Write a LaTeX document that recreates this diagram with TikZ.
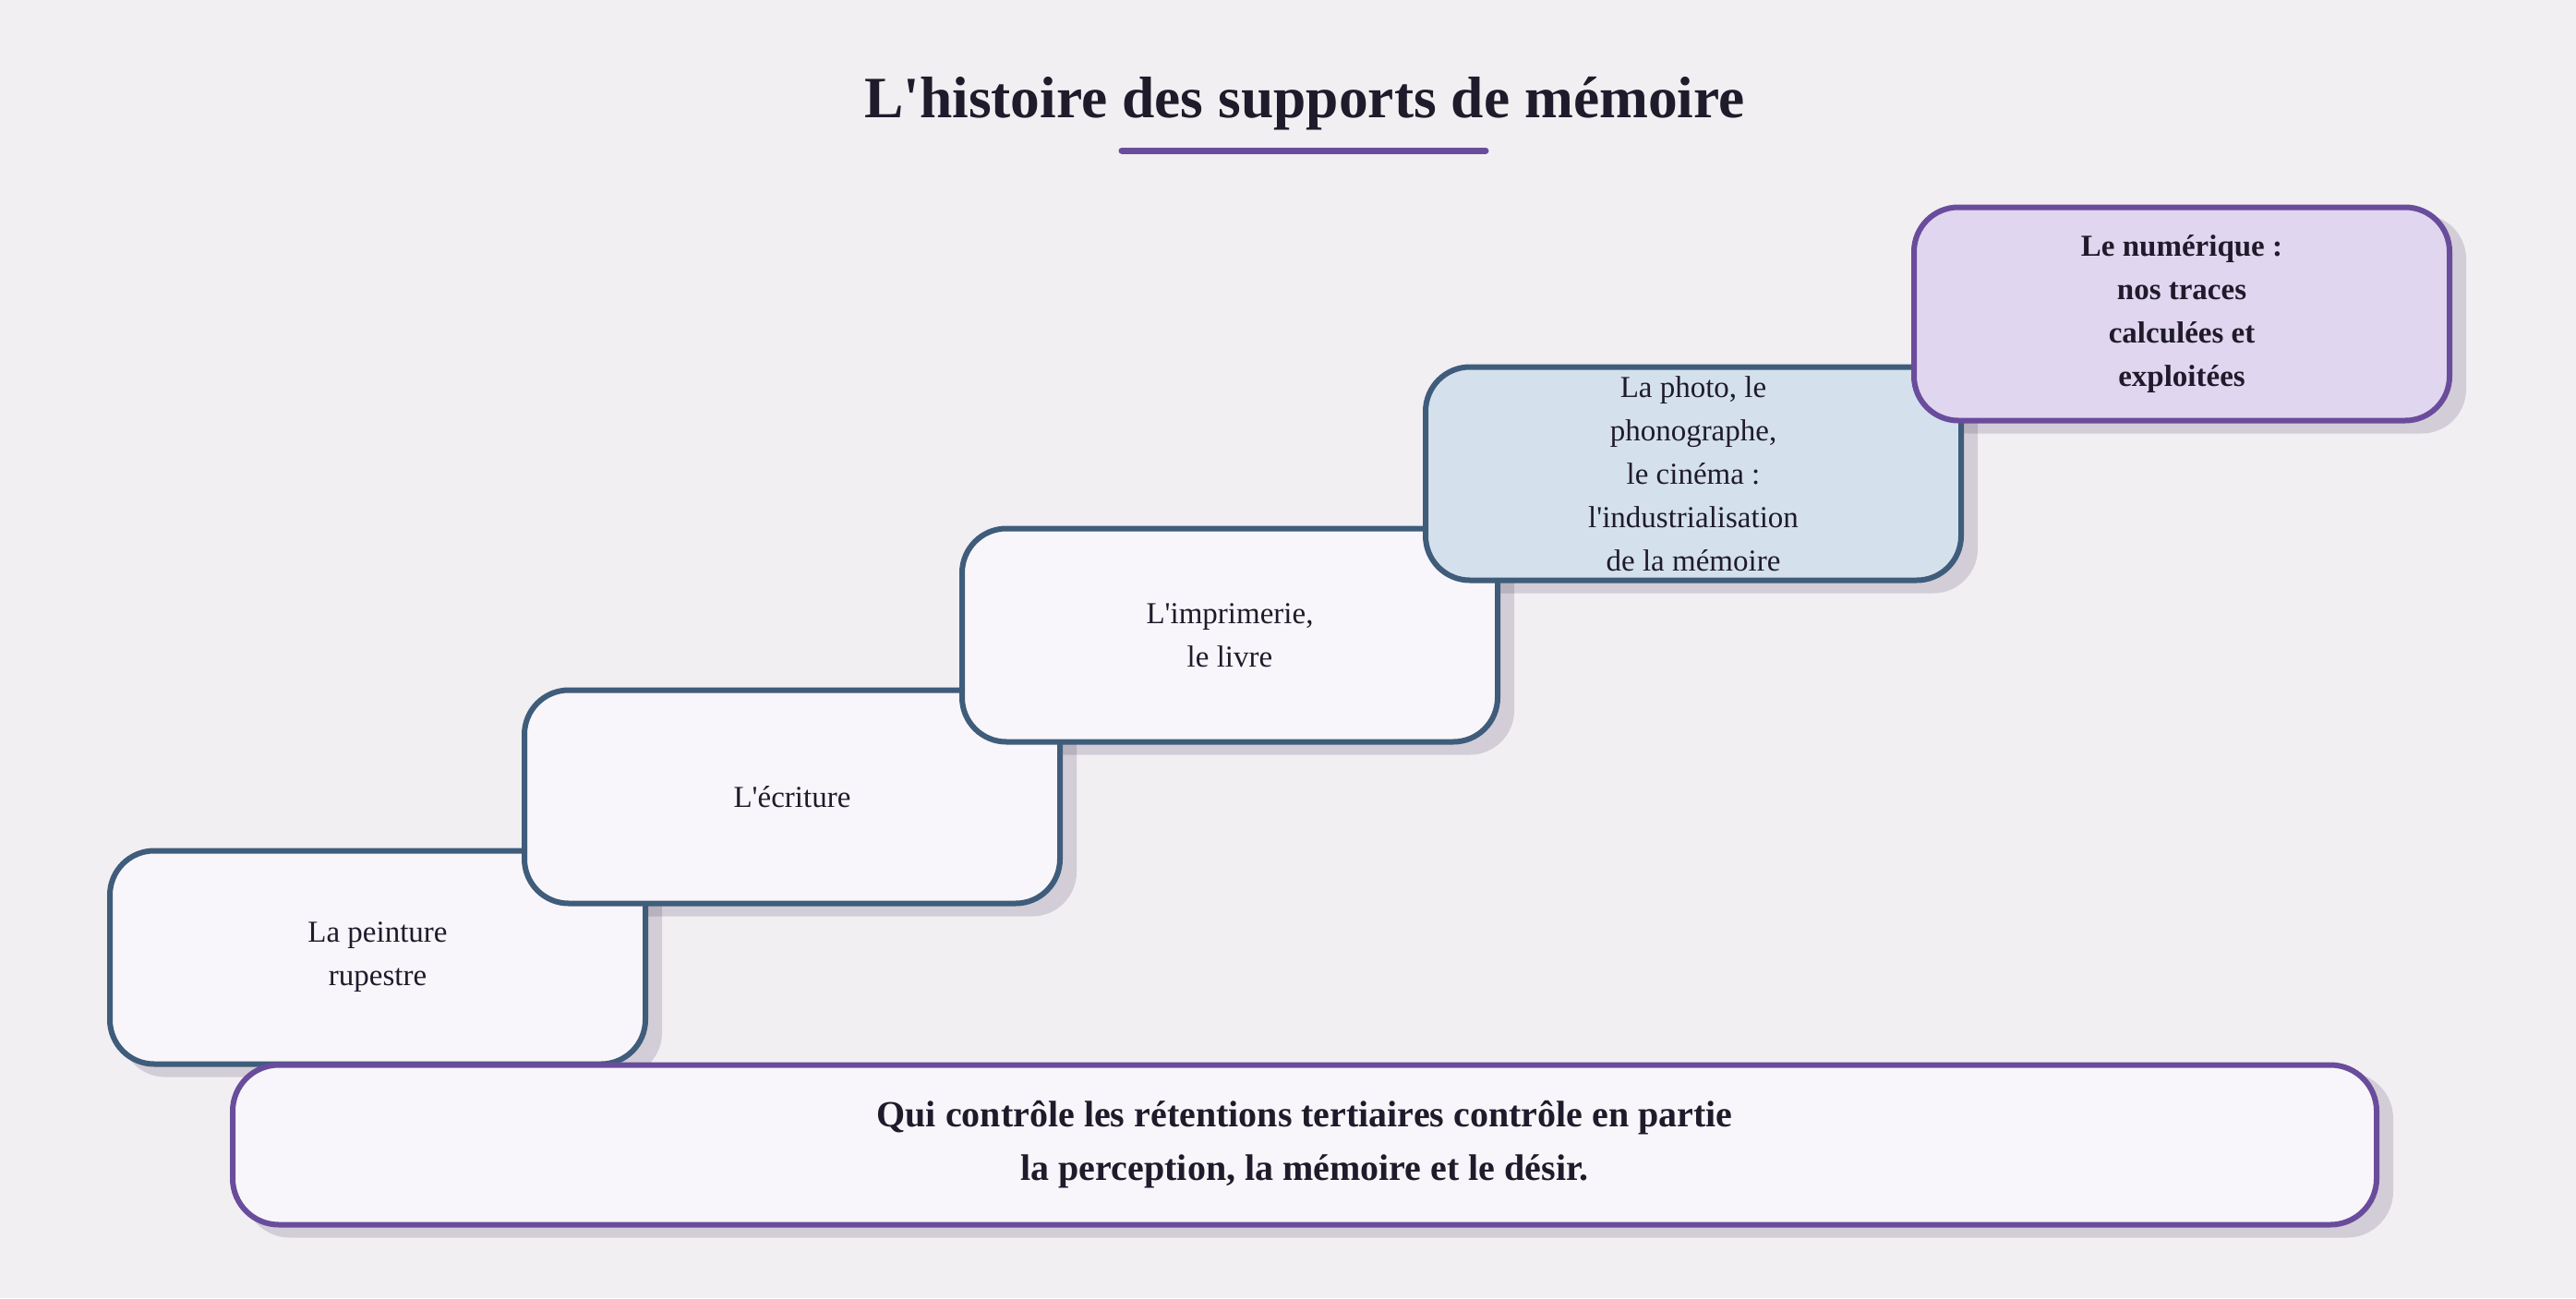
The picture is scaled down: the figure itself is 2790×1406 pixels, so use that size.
\documentclass[tikz,border=0pt]{standalone}
\usepackage{fontspec}
\setmainfont{Liberation Serif}[Ligatures=TeXOff]
\usepackage{tikz}
\pgfdeclarelayer{bg}
\pgfdeclarelayer{shadowlayer}
\pgfsetlayers{bg,shadowlayer,main}
\definecolor{pagecol}{HTML}{F1EFF2}
\definecolor{textcol}{HTML}{201B2B}
\definecolor{edgecol}{HTML}{3F5C7B}
\definecolor{boxcol}{HTML}{F8F6FA}
\definecolor{photocol}{HTML}{D4E1EC}
\definecolor{digitcol}{HTML}{E0D6EF}
\definecolor{purplecol}{HTML}{6A4C9C}
\definecolor{shadowcol}{HTML}{3C2850}
\tikzset{
  stepbox/.style={draw=edgecol, fill=boxcol, line width=6pt,
    rounded corners=48pt, minimum width=580pt, minimum height=231pt,
    align=center, text=textcol, inner sep=0pt,
    font=\fontsize{33}{47}\selectfont},
  quotebox/.style={draw=purplecol, fill=boxcol, line width=6pt,
    rounded corners=50pt, minimum width=2322pt, minimum height=173pt,
    align=center, text=textcol, inner sep=0pt,
    font=\fontsize{40}{58}\selectfont\bfseries},
}

\begin{document}
\begin{tikzpicture}[x=1pt, y=-1pt]

  % Page.
  \begin{pgfonlayer}{bg}
    \fill[pagecol] (0,0) rectangle (2790,1406);
  \end{pgfonlayer}
  \useasboundingbox (0,0) rectangle (2790,1406);

  % Title.
  \node[anchor=base, text=textcol, font=\fontsize{63.5}{74}\selectfont\bfseries]
    (title) at (1413,127) {L'histoire des supports de mémoire};
  \draw[purplecol, line width=7pt, line cap=round] (1215,163) -- (1609,163);

  % Steps.
  \node[stepbox] (rupestre) at (409,1037) {La peinture\\rupestre};
  \node[stepbox] (ecriture) at (858,863) {L'écriture};
  \node[stepbox] (imprimerie) at (1332,688) {L'imprimerie,\\le livre};
  \node[stepbox, fill=photocol] (photo) at (1834,513)
    {La photo, le\\phonographe,\\le cinéma :\\l'industrialisation\\de la mémoire};
  \node[stepbox, fill=digitcol, draw=purplecol, font=\fontsize{33}{47}\selectfont\bfseries]
    (numerique) at (2363,340) {Le numérique :\\nos traces\\calculées et\\exploitées};

  % Conclusion.
  \node[quotebox] (conclusion) at (1413,1240)
    {Qui contrôle les rétentions tertiaires contrôle en partie\\la perception, la mémoire et le désir.};

  % Shadows, behind every box.
  \begin{pgfonlayer}{shadowlayer}
    \foreach \n in {rupestre,ecriture,imprimerie,photo,numerique} {
      \fill[shadowcol, opacity=0.17, rounded corners=48pt]
        ([xshift=15pt, yshift=-11pt]\n.north west) rectangle
        ([xshift=15pt, yshift=-11pt]\n.south east);
    }
    \fill[shadowcol, opacity=0.17, rounded corners=50pt]
      ([xshift=15pt, yshift=-11pt]conclusion.north west) rectangle
      ([xshift=15pt, yshift=-11pt]conclusion.south east);
  \end{pgfonlayer}

\end{tikzpicture}
\end{document}
